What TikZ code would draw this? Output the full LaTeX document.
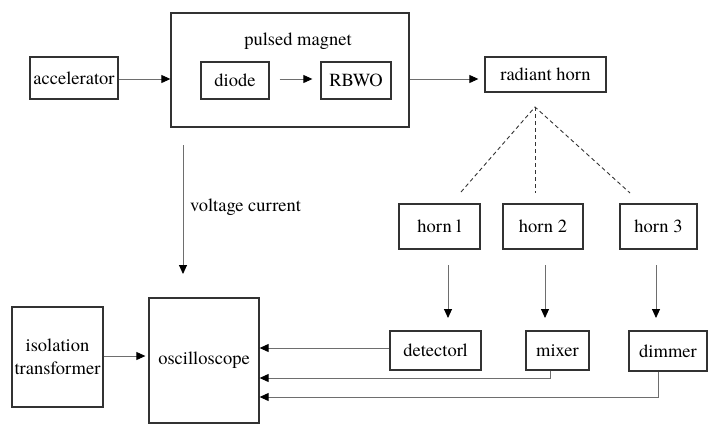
\documentclass[tikz,border=0pt]{standalone}
\usepackage{fontspec}
\setmainfont{TeX Gyre Termes}
\usetikzlibrary{arrows.meta}
\definecolor{boxc}{RGB}{50,50,50}
\definecolor{linec}{RGB}{110,110,110}
\begin{document}
\begin{tikzpicture}[x=1pt,y=-1pt,
  blk/.style={draw=boxc,line width=1.3pt,inner sep=0pt,font=\rmfamily\fontsize{18.5}{23}\selectfont},
  arr/.style={draw=linec,line width=0.9pt,-{Triangle[length=9pt,width=8pt,color=black]}},
  ln/.style={draw=linec,line width=0.9pt},
  dsh/.style={draw=black!80,line width=0.9pt,dash pattern=on 4pt off 3pt},
  lbl/.style={inner sep=0pt,font=\rmfamily\fontsize{18.5}{23}\selectfont}]
\useasboundingbox (0,0) rectangle (712,424);
\node[blk,minimum width=88pt,minimum height=42pt] (acc) at (74,78) {accelerator};
\node[blk,minimum width=238pt,minimum height=114pt] (pm) at (290,70) {};
\node[lbl] (pml) at (298,41) {pulsed magnet};
\node[blk,minimum width=68pt,minimum height=37pt] (diode) at (235,80.5) {diode};
\node[blk,minimum width=70pt,minimum height=37pt] (rbwo) at (356,80.5) {RBWO};
\node[blk,minimum width=121pt,minimum height=35pt] (rh) at (545.5,74.5) {radiant horn};
\node[blk,minimum width=81pt,minimum height=45pt] (h1) at (439.5,226.5) {horn l};
\node[blk,minimum width=80pt,minimum height=45pt] (h2) at (543,226.5) {horn 2};
\node[blk,minimum width=77pt,minimum height=45pt] (h3) at (658.5,226.5) {horn 3};
\node[blk,minimum width=91pt,minimum height=39pt] (det) at (435.5,350.5) {detectorl};
\node[blk,minimum width=63pt,minimum height=39pt] (mix) at (557.5,350.5) {mixer};
\node[blk,minimum width=78pt,minimum height=40pt] (dim) at (668,351) {dimmer};
\node[blk,minimum width=110pt,minimum height=125pt] (osc) at (204,360.5) {oscilloscope};
\node[blk,minimum width=91pt,minimum height=100pt,align=center] (iso) at (57.5,357) {isolation\\transformer};
\node[lbl,anchor=west] (vc) at (190,207) {voltage current};
% coordinates
\coordinate (apex) at (535,107);
\coordinate (d1) at (461,192);
\coordinate (d2) at (535,193);
\coordinate (d3) at (630,193);
\coordinate (vt) at (183,145);
\coordinate (vb) at (183,274);
\coordinate (a1t) at (448,265);
\coordinate (a1b) at (448,318);
\coordinate (a2t) at (545,265);
\coordinate (a2b) at (545,318);
\coordinate (a3t) at (656,265);
\coordinate (a3b) at (656,318);
% arrows
\draw[arr] (acc.east |- 0,79) -- (pm.west |- 0,79);
\draw[arr,shorten <=10pt,shorten >=8pt] (diode.east |- 0,79) -- (rbwo.west |- 0,79);
\draw[arr,shorten >=6pt] (pm.east |- 0,79) -- (rh.west |- 0,79);
\draw[dsh] (d1) -- (apex) -- (d3);
\draw[dsh] (apex) -- (d2);
\draw[arr] (vt) -- (vb);
\draw[arr] (a1t) -- (a1b);
\draw[arr] (a2t) -- (a2b);
\draw[arr] (a3t) -- (a3b);
\draw[arr,shorten >=3pt] (iso.east |- 0,356) -- (osc.west |- 0,356);
\draw[arr] (det.west |- 0,348) -- (osc.east |- 0,348);
\draw[arr] (mix.south -| 550,0) |- (osc.east |- 0,378);
\draw[arr] (dim.south -| 658,0) |- (osc.east |- 0,397);
\end{tikzpicture}
\end{document}
